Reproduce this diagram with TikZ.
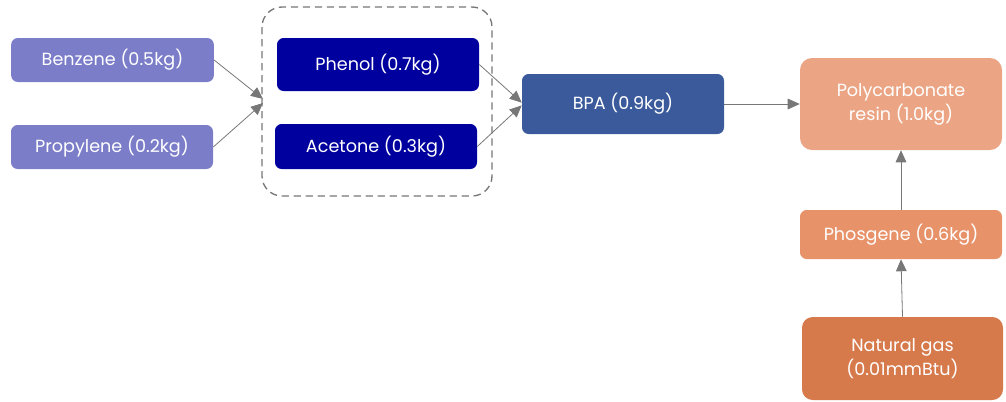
\documentclass[tikz,border=0pt]{standalone}
\usepackage{fontspec}
\setmainfont{Poppins}
\usetikzlibrary{arrows.meta}
\definecolor{lav}{HTML}{7B7DC9}
\definecolor{navy}{HTML}{00009E}
\definecolor{bpa}{HTML}{3A5A9C}
\definecolor{pc}{HTML}{EBA584}
\definecolor{phos}{HTML}{E8926A}
\definecolor{ng}{HTML}{D67A4C}
\definecolor{arr}{HTML}{777777}
\begin{document}
\begin{tikzpicture}[x=0.75pt,y=-0.75pt,
  box/.style={rounded corners=5pt,text=white,inner sep=0pt,align=center,font=\fontsize{13.2}{18}\selectfont},
  conn/.style={draw=arr,line width=0.6pt,-{Triangle[length=9pt,width=8pt]}}]
\useasboundingbox (0,0) rectangle (1006,401);
\node[box,fill=lav,minimum width=152pt,minimum height=33pt] (benz) at (112.5,60) {Benzene (0.5kg)};
\node[box,fill=lav,minimum width=151.5pt,minimum height=33pt] (prop) at (112,147) {Propylene (0.2kg)};
\draw[draw=arr,line width=1pt,dash pattern=on 5.5pt off 3.5pt,rounded corners=15pt] (262,7) rectangle (492,196);
\coordinate (g1) at (263,99);
\coordinate (g2) at (263,103);
\node[box,fill=navy,minimum width=151.5pt,minimum height=39.75pt] (phen) at (378,64.5) {Phenol (0.7kg)};
\node[box,fill=navy,minimum width=151.5pt,minimum height=33.75pt] (acet) at (376,146.5) {Acetone (0.3kg)};
\node[box,fill=bpa,minimum width=151.5pt,minimum height=45pt] (bpa) at (623,104) {BPA (0.9kg)};
\node[box,fill=pc,rounded corners=9pt,minimum width=151.5pt,minimum height=69pt] (pc) at (901,104) {Polycarbonate\\resin (1.0kg)};
\node[box,fill=phos,minimum width=151.5pt,minimum height=36.75pt] (phos) at (901,234.5) {Phosgene (0.6kg)};
\node[box,fill=ng,rounded corners=8pt,minimum width=150.75pt,minimum height=62.25pt] (ng) at (902.5,358.5) {Natural gas\\(0.01mmBtu)};
\draw[conn] (benz.east) -- (g1);
\draw[conn] (prop.east) -- (g2);
\draw[conn] (phen.east) -- ([yshift=1pt]bpa.west);
\draw[conn] (acet.east) -- ([yshift=-1pt]bpa.west);
\draw[conn] (bpa.east) -- (pc.west);
\draw[conn] (phos.north) -- (pc.south);
\draw[conn] (ng.north) -- (phos.south);
\end{tikzpicture}
\end{document}
